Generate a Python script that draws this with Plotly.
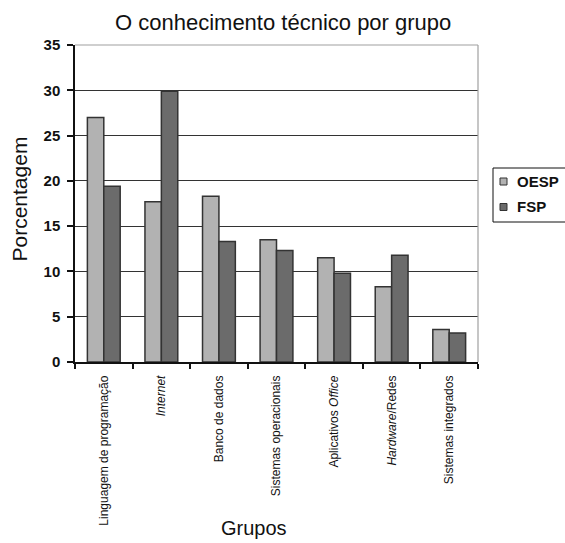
import plotly.graph_objects as go

# Technical knowledge share (%) per group, for each newspaper
categories = [
    "Linguagem de programação",
    "<i>Internet</i>",
    "Banco de dados",
    "Sistemas operacionais",
    "Aplicativos <i>Office</i>",
    "<i>Hardware</i>/Redes",
    "Sistemas integrados",
]
series_names = ["OESP", "FSP"]
oesp = [27.0, 17.7, 18.3, 13.5, 11.5, 8.3, 3.6]
fsp = [19.4, 29.9, 13.3, 12.3, 9.8, 11.8, 3.2]
y_ticks = [0, 5, 10, 15, 20, 25, 30, 35]

W, H = 565, 543
ML, MR, MT, MB = 75, 87, 45, 181
PW, PH = W - ML - MR, H - MT - MB

FONT = "Liberation Sans, Arial, sans-serif"
NARROW = "Liberation Sans Narrow, Arial Narrow, Liberation Sans, sans-serif"
INK = "#111111"
EDGE = "#333333"
COLORS = {"OESP": "#b2b2b2", "FSP": "#6b6b6b"}


def px(x):
    """Canvas pixel column -> paper x."""
    return (x - ML) / PW


def py(y):
    """Canvas pixel row -> paper y."""
    return (H - MB - y) / PH


fig = go.Figure()
for name, vals in zip(series_names, [oesp, fsp]):
    fig.add_trace(go.Bar(
        x=categories, y=vals, name=name, showlegend=False,
        marker=dict(color=COLORS[name], line=dict(color=EDGE, width=1.5)),
    ))

shapes = [
    # light frame on top and right of the plotting area
    dict(type="line", xref="paper", yref="paper", x0=0, x1=1, y0=1, y1=1,
         line=dict(color="#a0a0a0", width=1.2)),
    dict(type="line", xref="paper", yref="paper", x0=1, x1=1, y0=0, y1=1,
         line=dict(color="#a0a0a0", width=1.2)),
    # legend box, running off the right edge
    dict(type="rect", xref="paper", yref="paper",
         x0=px(493), x1=px(570), y0=py(222), y1=py(168),
         line=dict(color=INK, width=1), fillcolor="white", layer="above"),
]
annotations = [
    dict(text="O conhecimento técnico por grupo", xref="paper", yref="paper",
         x=px(283), y=py(23), xanchor="center", yanchor="middle",
         showarrow=False, font=dict(family=FONT, size=22, color=INK)),
    dict(text="Porcentagem", xref="paper", yref="paper",
         x=px(18.5), y=py(199), xanchor="center", yanchor="middle",
         textangle=-90, showarrow=False,
         font=dict(family=FONT, size=21, color=INK)),
    dict(text="Grupos", xref="paper", yref="paper",
         x=px(253.5), y=py(528), xanchor="center", yanchor="middle",
         showarrow=False, font=dict(family=FONT, size=20, color=INK)),
]

# legend entries: small swatch + bold label
for name, yc in zip(series_names, [181.5, 207]):
    shapes.append(dict(type="rect", xref="paper", yref="paper",
                       x0=px(500), x1=px(507), y0=py(yc + 3.5), y1=py(yc - 3.5),
                       line=dict(color=EDGE, width=1), fillcolor=COLORS[name],
                       layer="above"))
    annotations.append(dict(text=f"<b>{name}</b>", xref="paper", yref="paper",
                            x=px(515), y=py(yc), xanchor="left", yanchor="middle",
                            showarrow=False,
                            font=dict(family=FONT, size=15, color=INK)))

fig.update_layout(
    width=W, height=H,
    margin=dict(l=ML, r=MR, t=MT, b=MB),
    paper_bgcolor="white", plot_bgcolor="white",
    barmode="group", bargap=0.43, bargroupgap=0,
    font=dict(family=FONT, color=INK),
    showlegend=False,
    xaxis=dict(
        type="category",
        showline=True, linecolor=INK, linewidth=1.5,
        ticks="outside", ticklen=5, tickcolor=INK, tickwidth=1.5,
        tickson="boundaries",
        tickangle=-90, ticklabelstandoff=7,
        tickfont=dict(family=NARROW, size=12, color=INK),
        showgrid=False,
    ),
    yaxis=dict(
        range=[0, 35], tickvals=y_ticks,
        showline=True, linecolor=INK, linewidth=1.5,
        ticks="outside", ticklen=6, tickcolor=INK, tickwidth=1.5,
        ticklabelstandoff=4,
        tickfont=dict(family=FONT, size=15, color=INK, weight="bold"),
        showgrid=True, gridcolor="#333333", gridwidth=1,
        zeroline=False,
    ),
    shapes=shapes,
    annotations=annotations,
)

fig.write_html("out.html")
